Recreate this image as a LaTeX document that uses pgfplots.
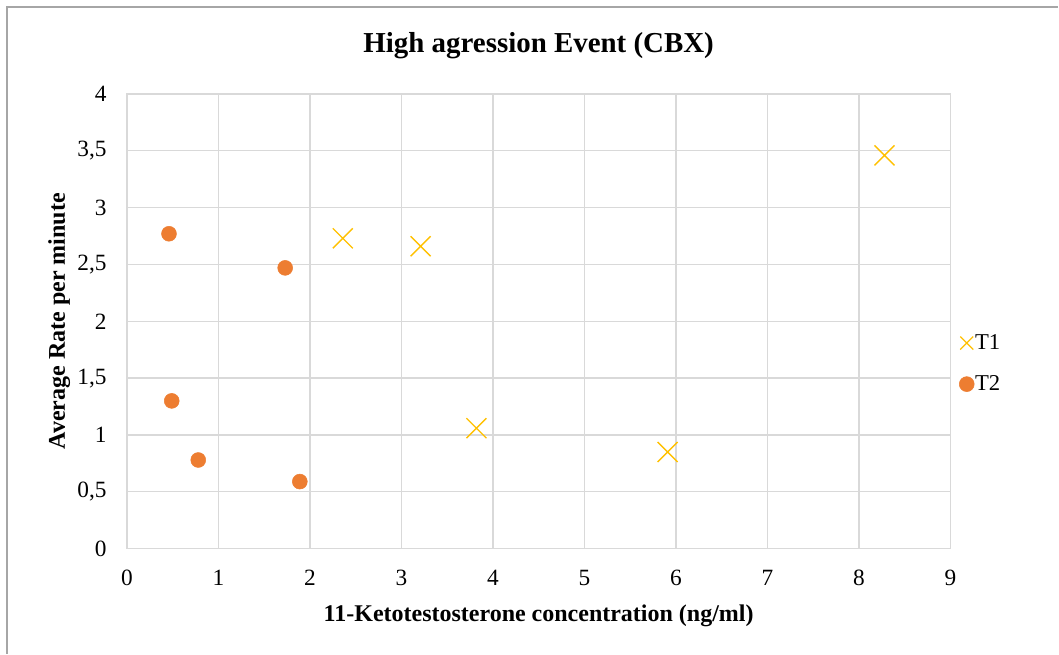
\documentclass[border=0pt]{standalone}
\usepackage{pgfplots}
\pgfplotsset{compat=1.18}
\usepackage{fontspec}
\setmainfont{Liberation Serif}
\definecolor{tone}{HTML}{FFC000}
\definecolor{ttwo}{HTML}{ED7D31}
\definecolor{gridc}{HTML}{D9D9D9}
\definecolor{framec}{HTML}{A6A6A6}
\begin{document}
\begin{tikzpicture}
\begin{axis}[
  scale only axis,
  width=618pt, height=341.25pt,
  xmin=0, xmax=9, ymin=0, ymax=4,
  xtick={0,1,...,9},
  ytick={0,0.5,...,4},
  grid=major,
  major grid style={gridc, line width=1pt},
  axis line style={gridc, line width=1pt},
  tick style={draw=none},
  clip mode=individual,
  /pgf/number format/assume math mode=true,
  /pgf/number format/use comma,
  ticklabel style={font=\fontsize{17.5}{20}\selectfont, inner sep=0pt},
  yticklabel style={anchor=east, xshift=-15pt},
  xticklabel style={anchor=center, yshift=-21.75pt},
  every axis title shift=0pt,
  title={\textbf{High agression Event (CBX)}},
  title style={at={(rel axis cs:0.5,1.0901)}, anchor=base, font=\fontsize{21.7}{24}\selectfont},
  xlabel={\textbf{11-Ketotestosterone concentration (ng/ml)}},
  xlabel style={at={(rel axis cs:0.5,-0.1604)}, anchor=base, font=\fontsize{18}{22}\selectfont},
  ylabel={\textbf{Average Rate per minute}},
  ylabel style={at={(rel axis cs:-0.0752,0.5)}, anchor=base, rotate=0, font=\fontsize{18}{22}\selectfont},
  legend style={at={(rel axis cs:1.0105,0.407)}, anchor=west, draw=none, fill=none,
    font=\fontsize{17}{20}\selectfont, row sep=16.9pt, inner sep=0pt,
    nodes={inner sep=0.6pt}},
  legend cell align=left,
  legend image code/.code={\draw[mark repeat=2,mark phase=2,#1] plot coordinates {(0pt,0pt) (3pt,0pt) (6pt,0pt)};},
]
\addplot[only marks, mark=x, mark size=10.6pt, draw=tone, line width=1pt,
  mark options={draw=tone}, legend image post style={mark size=6.9pt}] coordinates {
  (8.28,3.46) (2.36,2.73) (3.21,2.66) (3.82,1.06) (5.91,0.85)
};
\addlegendentry{T1}
\addplot[only marks, mark=*, mark size=5.6pt, draw=ttwo, fill=ttwo,
  mark options={draw=ttwo, fill=ttwo}] coordinates {
  (0.46,2.77) (1.73,2.47) (0.49,1.30) (0.78,0.78) (1.89,0.59)
};
\addlegendentry{T2}
\coordinate (bl) at (rel axis cs:-0.1541,-0.2308);
\coordinate (tr) at (rel axis cs:1.1311,1.2066);
\coordinate (fb) at (rel axis cs:-0.1456,-0.2308);
\coordinate (fl) at (rel axis cs:-0.1456,1.1912);
\coordinate (fr) at (rel axis cs:1.1311,1.1912);
\end{axis}
\draw[framec, line width=1pt] (fb) -- (fl) -- (fr);
\useasboundingbox (bl) rectangle (tr);
\end{tikzpicture}
\end{document}
